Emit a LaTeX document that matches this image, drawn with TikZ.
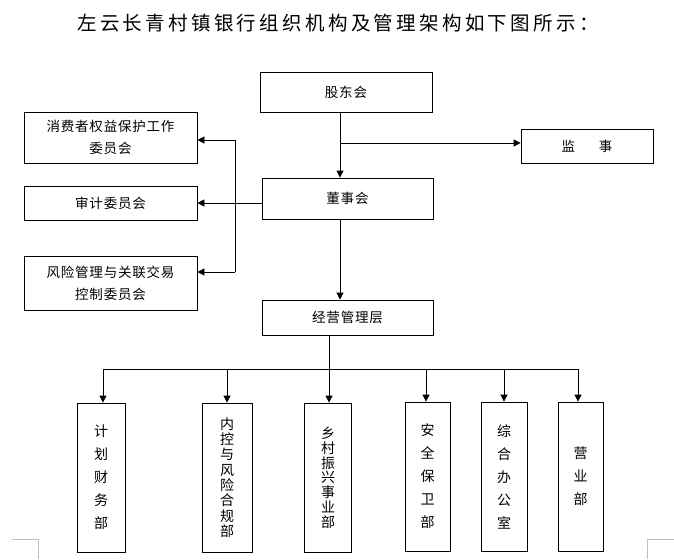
\documentclass[tikz,border=0pt]{standalone}
\usepackage{fontspec}
\setmainfont{Noto Sans CJK SC}[LetterSpace=6]
\usetikzlibrary{arrows.meta}
\tikzset{
  box/.style={draw=black, line width=0.8pt, inner sep=0pt, align=center, font=\fontsize{13.5}{22}\selectfont},
  vbox/.style={box, minimum height=149pt},
  conn/.style={draw=black, line width=0.8pt},
  arr/.style={conn, -{Triangle[length=7pt,width=7pt]}},
  corner/.style={draw=black!25, line width=0.8pt}
}
\begin{document}
\begin{tikzpicture}[x=1pt,y=-1pt]
\useasboundingbox (0,0) rectangle (674,559);
% title
\node (title) at (338,23) {\fontsize{19.5}{24}\selectfont\addfontfeatures{LetterSpace=17}左云长青村镇银行组织机构及管理架构如下图所示：};
% top boxes
\node[box, minimum width=172pt, minimum height=40pt] (gd) at (346,92) {股东会};
\node[box, minimum width=132pt, minimum height=34pt] (js) at (587,146) {监\hspace{24pt}事};
\node[box, minimum width=171pt, minimum height=41pt] (ds) at (347.5,198.5) {董事会};
\node[box, minimum width=173pt, minimum height=51pt] (xf) at (110.5,137.5) {消费者权益保护工作\\委员会};
\node[box, minimum width=173pt, minimum height=34pt] (sj) at (110.5,203) {审计委员会};
\node[box, minimum width=173pt, minimum height=54pt] (fx) at (110.5,283) {风险管理与关联交易\\控制委员会};
\node[box, minimum width=171pt, minimum height=35pt] (jy) at (347.5,317.5) {经营管理层};
% bottom boxes
\node[vbox, minimum width=48pt, font=\fontsize{14}{23}\selectfont] (b1) at (101,477.5) {计\\划\\财\\务\\部};
\node[vbox, minimum width=50pt, font=\fontsize{14}{15.3}\selectfont] (b2) at (227,477.5) {内\\控\\与\\风\\险\\合\\规\\部};
\node[vbox, minimum width=47pt, font=\fontsize{14}{14.8}\selectfont] (b3) at (328,477.5) {乡\\村\\振\\兴\\事\\业\\部};
\node[vbox, minimum width=45pt, font=\fontsize{14}{23}\selectfont] (b4) at (427.5,476.5) {安\\全\\保\\卫\\部};
\node[vbox, minimum width=46pt, font=\fontsize{14}{23}\selectfont] (b5) at (504,476.5) {综\\合\\办\\公\\室};
\node[vbox, minimum width=45pt, font=\fontsize{14}{23}\selectfont] (b6) at (580.5,476.5) {营\\业\\部};
% coordinates
\coordinate (gdb) at (340,113);
\coordinate (jsbr) at (340,143);
\coordinate (ju1) at (235,140);
\coordinate (ju2) at (235,272);
\coordinate (jym) at (329,335);
\coordinate (bus1) at (103,369);
\coordinate (bus2) at (227,369);
\coordinate (bus3) at (329,369);
\coordinate (bus4) at (426,369);
\coordinate (bus5) at (504,369);
\coordinate (bus6) at (578,369);
% connectors
\draw[arr] (gdb |- gd.south) -- (gdb |- ds.north);
\draw[arr] (jsbr) -- (jsbr -| js.west);
\draw[arr] (ds.west |- sj.east) -- (sj.east);
\draw[conn] (ju1) -- (ju2);
\draw[arr] (ju1) -- (ju1 -| xf.east);
\draw[arr] (ju2) -- (ju2 -| fx.east);
\draw[arr] (ds.south -| gdb) -- (gdb |- jy.north);
\draw[conn] (jym) -- (bus3);
\draw[conn] (bus1) -- (bus6);
\draw[arr] (bus1) -- (bus1 |- b1.north);
\draw[arr] (bus2) -- (bus2 |- b2.north);
\draw[arr] (bus3) -- (bus3 |- b3.north);
\draw[arr] (bus4) -- (bus4 |- b4.north);
\draw[arr] (bus5) -- (bus5 |- b5.north);
\draw[arr] (bus6) -- (bus6 |- b6.north);
% page corner marks
\coordinate (cl1) at (12,539.5);
\coordinate (cl2) at (38,539.5);
\coordinate (cl3) at (38,559);
\coordinate (cr1) at (674,539.5);
\coordinate (cr2) at (647,539.5);
\coordinate (cr3) at (647,559);
\draw[corner] (cl1) -- (cl2) -- (cl3);
\draw[corner] (cr1) -- (cr2) -- (cr3);
\end{tikzpicture}
\end{document}
